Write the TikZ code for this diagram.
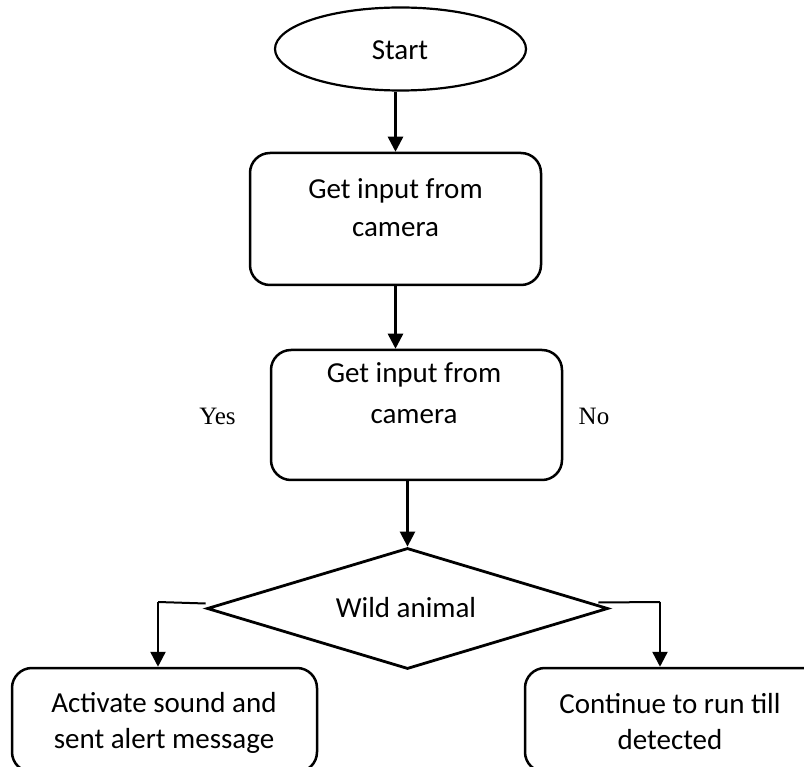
\documentclass[tikz,border=0pt]{standalone}
\usepackage{fontspec}
\setmainfont{Carlito}
\newfontfamily\yesnofont{Liberation Serif}
\usetikzlibrary{shapes.geometric,arrows.meta}
\tikzset{
  proc/.style={draw, rounded corners=20pt, line width=2.5pt, inner sep=0pt, minimum width=#1},
  startshape/.style={draw, ellipse, line width=2.2pt, inner sep=0pt, minimum width=251pt, minimum height=83pt},
  decide/.style={draw, diamond, line width=2.8pt, inner sep=0pt, minimum width=401pt, minimum height=121pt},
  txt/.style={anchor=base, inner sep=0pt, font=\fontsize{29}{36}\selectfont},
  yn/.style={anchor=base, inner sep=0pt, font=\yesnofont\fontsize{25}{30}\selectfont},
  arr/.style={line width=2.5pt, -{Triangle[width=15pt,length=15pt]}},
  branch/.style={line width=2pt}
}
\begin{document}
\begin{tikzpicture}[x=1pt,y=-1pt]
\useasboundingbox (0,0) rectangle (804,767);
\clip (0,0) rectangle (804,767);
% start
\node[startshape] (start) at (400.5,49) {};
\node[txt] (starttxt) at (400,60) {Start};
% box 1
\node[proc=291pt, minimum height=132pt] (b1) at (395.5,219) {};
\node[txt] (b1a) at (395.5,199) {Get input from};
\node[txt] (b1b) at (395.5,237) {camera};
% box 2
\node[proc=291pt, minimum height=130pt] (b2) at (416.5,415) {};
\node[txt] (b2a) at (414,383) {Get input from};
\node[txt] (b2b) at (414,424) {camera};
% yes / no
\node[yn] (yes) at (217.5,425) {Yes};
\node[yn] (no) at (594,425) {No};
% decision
\node[decide] (d) at (407.5,608.5) {};
\node[txt] (dtxt) at (406,617) {Wild animal};
% bottom boxes
\node[proc=305pt, minimum height=104pt] (lbox) at (164.5,720) {};
\node[txt] (la) at (164,712) {Activate sound and};
\node[txt] (lb) at (164,748) {sent alert message};
\node[proc=305pt, minimum height=104pt] (rbox) at (677.5,720) {};
\node[txt] (ra) at (670,713) {Continue to run till};
\node[txt] (rb) at (670,749) {detected};
% connectors
\draw[arr] (b1.north |- start.south) -- (b1.north);
\draw[arr] (b1.south) -- (b1.south |- b2.north);
\draw[arr] (d.north |- b2.south) -- (d.north);
\coordinate (lc) at (158,602);
\coordinate (rc) at (660,602);
\draw[branch] ([yshift=5pt]d.west) -- (lc);
\draw[arr] (lc) -- (lc |- lbox.north);
\draw[branch] ([xshift=-11pt,yshift=6pt]d.east) -- (rc);
\draw[arr] (rc) -- (rc |- rbox.north);
\end{tikzpicture}
\end{document}
